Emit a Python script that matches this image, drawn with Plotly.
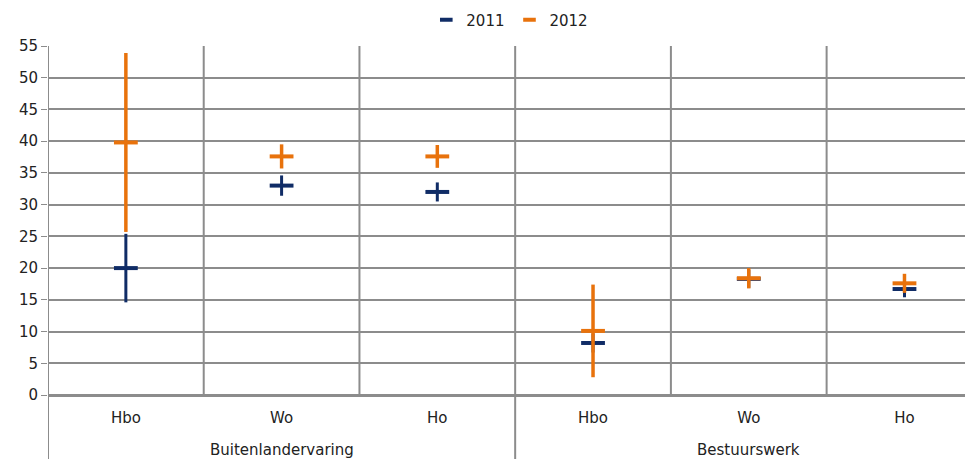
import plotly.graph_objects as go

groups = ["Buitenlandervaring", "Bestuurswerk"]
categories = ["Hbo", "Wo", "Ho", "Hbo", "Wo", "Ho"]
values_2011 = [20.0, 33.0, 32.0, 8.2, 18.3, 16.7]
err_2011 = [5.4, 1.6, 1.5, 1.5, 1.4, 1.3]
values_2012 = [39.8, 37.6, 37.6, 10.1, 18.4, 17.6]
err_2012 = [14.1, 1.9, 1.8, 7.3, 1.6, 1.5]
y_ticks = [0, 5, 10, 15, 20, 25, 30, 35, 40, 45, 50, 55]

NAVY = "#102C66"
ORANGE = "#E8720C"
GRID = "#8C8C8C"
FONT = "DejaVu Sans"

xpos = [i + 0.5 for i in range(len(categories))]

fig = go.Figure()
for name, vals, errs, col, th in [("2011", values_2011, err_2011, NAVY, 3),
                                  ("2012", values_2012, err_2012, ORANGE, 3.5)]:
    fig.add_trace(go.Scatter(
        x=xpos, y=vals, mode="markers", name=name, showlegend=False,
        marker=dict(symbol="line-ew", size=17, color=col,
                    line=dict(color=col, width=4)),
        error_y=dict(type="data", array=errs, visible=True,
                     color=col, thickness=th, width=0),
    ))
# legend entries with short dash symbols
for name, col in [("2011", NAVY), ("2012", ORANGE)]:
    fig.add_trace(go.Scatter(
        x=[None], y=[None], mode="markers", name=name, showlegend=True,
        marker=dict(symbol="line-ew", size=9, color=col, line=dict(color=col, width=4)),
    ))

shapes = []
for b in [1, 2, 4, 5]:
    shapes.append(dict(type="line", xref="x", yref="y", x0=b, x1=b, y0=0, y1=55,
                       line=dict(color=GRID, width=2), layer="below"))
for b in [0, 3]:
    shapes.append(dict(type="line", xref="x", yref="paper", x0=b, x1=b, y0=-0.2, y1=1,
                       line=dict(color=GRID, width=2), layer="below"))

annotations = []
for gi, g in enumerate(groups):
    annotations.append(dict(text=g, xref="x", yref="paper", x=gi * 3 + 1.5, y=-0.158,
                            showarrow=False, yanchor="middle", xanchor="center",
                            font=dict(family=FONT, size=15, color="#222")))

fig.update_layout(
    width=965, height=451,
    margin=dict(l=40, r=0, t=38, b=64, autoexpand=False),
    paper_bgcolor="white", plot_bgcolor="white",
    font=dict(family=FONT, size=15, color="#222"),
    showlegend=True,
    legend=dict(orientation="h", x=0.52, xanchor="center", xref="container",
                y=1 - 12 / 451, yanchor="middle", yref="container",
                font=dict(family=FONT, size=15), itemwidth=30,
                tracegroupgap=0),
    shapes=shapes, annotations=annotations,
    xaxis=dict(range=[0, 5.94], tickvals=xpos, ticktext=categories,
               showgrid=False, zeroline=False, showline=False, automargin=False,
               ticks="", ticklabelstandoff=12, fixedrange=True),
    yaxis=dict(range=[0, 55], tickvals=y_ticks, showgrid=True, gridcolor=GRID, gridwidth=2,
               zeroline=True, zerolinecolor=GRID, zerolinewidth=3, automargin=False,
               ticks="outside", ticklen=6, tickcolor=GRID, tickwidth=1,
               showline=False),
)

fig.write_html("out.html")
